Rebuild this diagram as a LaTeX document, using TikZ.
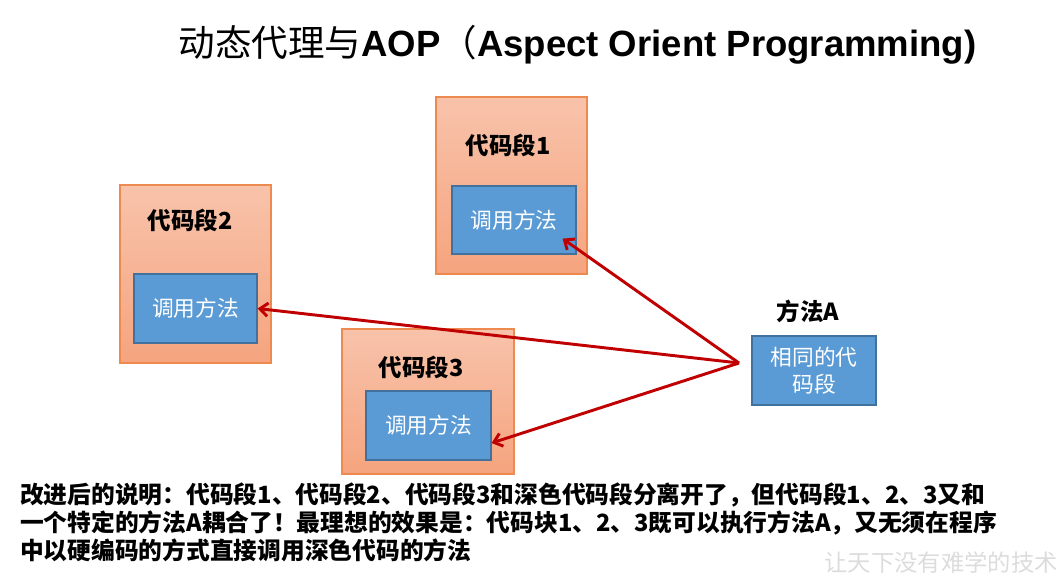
\documentclass[tikz,border=0pt]{standalone}
\usepackage{fontspec}
\setmainfont{Liberation Sans}
\newfontfamily\cjk{Noto Sans CJK SC}
\usetikzlibrary{arrows.meta,positioning,calc}
\definecolor{segtop}{HTML}{F8C3AB}
\definecolor{segbot}{HTML}{F5A47E}
\definecolor{segline}{HTML}{EE8A4F}
\definecolor{callfill}{HTML}{5B9BD5}
\definecolor{callline}{HTML}{41719C}
\definecolor{linkred}{HTML}{C00000}
\definecolor{markgray}{HTML}{DCDCDC}
\begin{document}
\begin{tikzpicture}[x=0.75pt,y=-0.75pt,
  codeseg/.style={draw=segline,line width=0.9pt,top color=segtop,bottom color=segbot,inner sep=0pt},
  callbox/.style={draw=callline,line width=0.9pt,fill=callfill,inner sep=0pt,
    text=white,font=\cjk\fontsize{16.3}{20}\selectfont,align=center},
  seglabel/.style={font=\cjk\bfseries\fontsize{17.6}{20}\selectfont,text=black,inner sep=0pt},
  link/.style={draw=linkred,line width=2.2pt,-{Straight Barb[length=6pt,width=10pt]}},
  note/.style={font=\cjk\bfseries\fontsize{17.8}{21}\selectfont,align=left,anchor=north west,inner sep=0pt}]
\useasboundingbox (0,0) rectangle (1062,587);

% title
\node[inner sep=0pt] (title) at (577.5,45)
  {{\cjk\fontsize{27.4}{30}\selectfont 动态代理与}{\bfseries\fontsize{27.4}{30}\selectfont AOP}{\cjk\fontsize{27.4}{30}\selectfont （}{\bfseries\fontsize{27.4}{30}\selectfont Aspect Orient Programming)}};

% code segment 1
\node[codeseg,minimum width=113.25pt,minimum height=132.75pt] (seg1) at (511.5,185.5) {};
\node[seglabel] (lab1) at (508,145) {代码段1};
\node[callbox,minimum width=93pt,minimum height=51pt] (call1) at (514,220) {调用方法};

% code segment 2
\node[codeseg,minimum width=113.25pt,minimum height=133.5pt] (seg2) at (195.5,274) {};
\node[seglabel] (lab2) at (190,220) {代码段2};
\node[callbox,minimum width=92.25pt,minimum height=51.75pt] (call2) at (195.5,308.5) {调用方法};

% code segment 3
\node[codeseg,minimum width=129pt,minimum height=108.75pt] (seg3) at (428,401.5) {};
\node[seglabel] (lab3) at (421,367) {代码段3};
\node[callbox,minimum width=93.75pt,minimum height=51.75pt] (call3) at (428.5,425.5) {调用方法};

% method A
\node[seglabel] (labA) at (808,311) {方法A};
\node[callbox,minimum width=93pt,minimum height=51.75pt] (methA) at (814,370.5) {相同的代\\码段};

% connectors from the common method
\coordinate (src) at (739,363);
\draw[link] (src) -- ([shift={(-14,-16)}]call1.south east);
\draw[link] (src) -- (call2.east);
\draw[link] (src) -- ([shift={(0,17.5)}]call3.east);

% explanation
\node[note] (note) at (20,483)
  {改进后的说明：代码段1、代码段2、代码段3和深色代码段分离开了，但代码段1、2、3又和\\
   一个特定的方法A耦合了！最理想的效果是：代码块1、2、3既可以执行方法A，又无须在程序\\
   中以硬编码的方式直接调用深色代码的方法};

% slogan
\node[font=\cjk\fontsize{17.5}{22}\selectfont,text=markgray,anchor=east,inner sep=0pt] (slogan) at (1058,563) {让天下没有难学的技术};
\end{tikzpicture}
\end{document}
